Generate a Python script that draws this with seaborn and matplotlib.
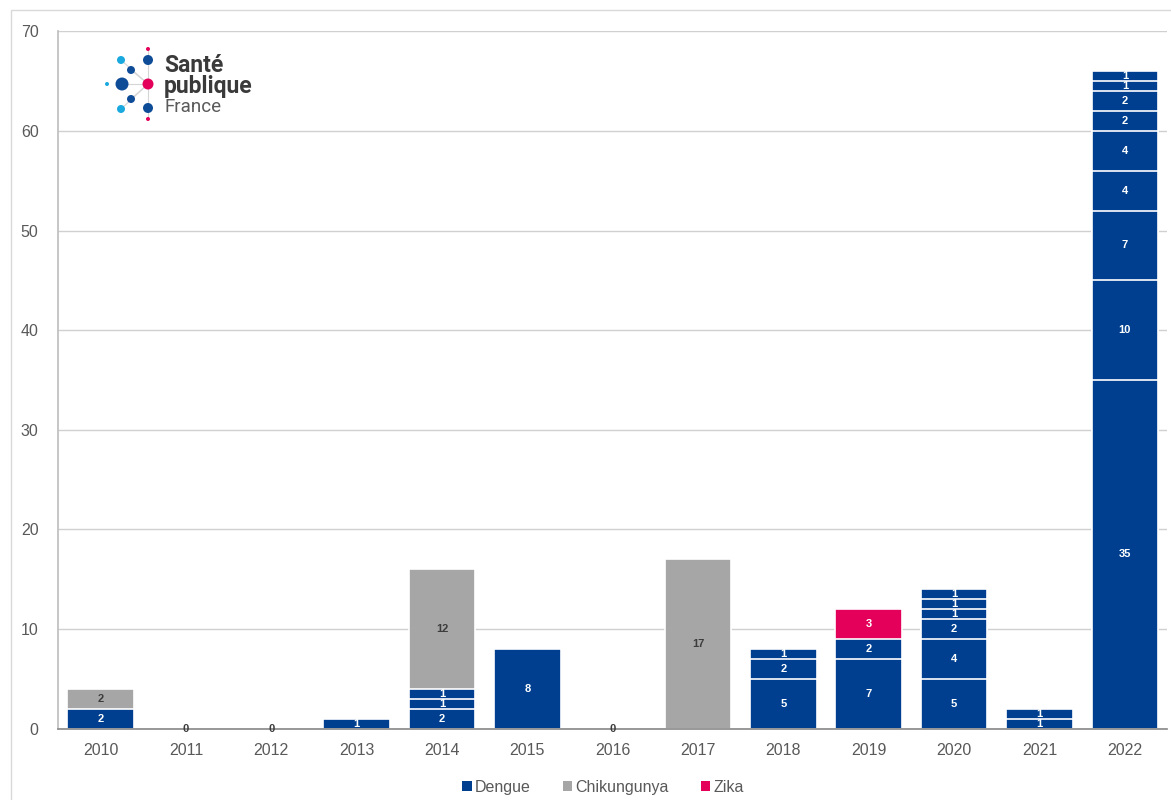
import seaborn as sns
import matplotlib.pyplot as plt
import pandas as pd
from matplotlib.patches import Patch, Rectangle

# years on the x axis
years = ['2010', '2011', '2012', '2013', '2014', '2015', '2016',
         '2017', '2018', '2019', '2020', '2021', '2022']
zero_years = ['2011', '2012', '2016']

# one entry per transmission episode, in stacking order
ep_year = ['2010', '2010',
           '2013',
           '2014', '2014', '2014', '2014',
           '2015',
           '2017',
           '2018', '2018', '2018',
           '2019', '2019', '2019',
           '2020', '2020', '2020', '2020', '2020', '2020',
           '2021', '2021',
           '2022', '2022', '2022', '2022', '2022', '2022', '2022', '2022', '2022']
ep_virus = ['Dengue', 'Chikungunya',
            'Dengue',
            'Dengue', 'Dengue', 'Dengue', 'Chikungunya',
            'Dengue',
            'Chikungunya',
            'Dengue', 'Dengue', 'Dengue',
            'Dengue', 'Dengue', 'Zika',
            'Dengue', 'Dengue', 'Dengue', 'Dengue', 'Dengue', 'Dengue',
            'Dengue', 'Dengue',
            'Dengue', 'Dengue', 'Dengue', 'Dengue', 'Dengue', 'Dengue', 'Dengue', 'Dengue', 'Dengue']
ep_cases = [2, 2,
            1,
            2, 1, 1, 12,
            8,
            17,
            5, 2, 1,
            7, 2, 3,
            5, 4, 2, 1, 1, 1,
            1, 1,
            35, 10, 7, 4, 4, 2, 2, 1, 1]

viruses = ['Dengue', 'Chikungunya', 'Zika']
colors = {'Dengue': '#003f8f', 'Chikungunya': '#a6a6a6', 'Zika': '#e4005a'}
label_colors = {'Dengue': 'white', 'Chikungunya': '#3c3c3c', 'Zika': 'white'}

df = pd.DataFrame({'year': ep_year, 'virus': ep_virus, 'cases': ep_cases})
df['level'] = df.groupby('year').cumcount()
df['top'] = df.groupby('year')['cases'].cumsum()
df['bottom'] = df['top'] - df['cases']

sns.set_theme(style='white')
plt.rcParams['font.family'] = ['Liberation Sans', 'DejaVu Sans']

fig = plt.figure(figsize=(11.71, 8), dpi=100)
ax = fig.add_axes([0.0495, 0.089, 0.9475, 0.872])

# stacked bars: draw cumulative tops from the highest level down
for level in sorted(df['level'].unique(), reverse=True):
    sub = df[df['level'] == level]
    sns.barplot(data=sub, x='year', y='top', hue='virus', order=years,
                hue_order=viruses, palette=colors, dodge=False, width=0.78,
                edgecolor='white', linewidth=1.2, saturation=1,
                errorbar=None, legend=False, ax=ax, zorder=3)

for _, row in df.iterrows():
    ax.text(years.index(row['year']), row['bottom'] + row['cases'] / 2,
            str(row['cases']), ha='center', va='center', fontsize=8,
            fontweight='bold', color=label_colors[row['virus']], zorder=5)
for y in zero_years:
    ax.text(years.index(y), 0, '0', ha='center', va='center', fontsize=8,
            fontweight='bold', color='#3c3c3c', zorder=5)

ax.set_ylim(0, 70)
ax.set_xlim(-0.5, len(years) - 0.5)
ax.set_yticks(range(0, 71, 10))
ax.yaxis.grid(True, color='#d0d0d0', linewidth=1)
ax.set_axisbelow(True)
ax.set_xlabel('')
ax.set_ylabel('')
ax.tick_params(axis='both', labelsize=11.5, colors='#595959', length=0)
ax.tick_params(axis='x', pad=10)
ax.tick_params(axis='y', pad=14)
for side in ['top', 'right']:
    ax.spines[side].set_visible(False)
ax.spines['left'].set_color('#bfbfbf')
ax.spines['bottom'].set_color('#8c8c8c')
ax.spines['bottom'].set_zorder(4)

handles = [Patch(facecolor=colors[v], edgecolor='none', label=v) for v in viruses]
fig.legend(handles=handles, loc='center', bbox_to_anchor=(0.515, 0.016), ncol=3,
           frameon=False, fontsize=11.5, handlelength=0.6, handleheight=0.6,
           handletextpad=0.2, columnspacing=2.0, labelcolor='#595959')

# light frame around the figure
fig.patches.append(Rectangle((11 / 1171, -0.01), 1.0, 1 - 10 / 800 + 0.01,
                             transform=fig.transFigure, fill=False,
                             edgecolor='#d9d9d9', linewidth=1))

# Santé publique France logo, drawn in pixel coordinates
logo = fig.add_axes([0, 0, 1, 1], zorder=10)
logo.set_xlim(0, 1171)
logo.set_ylim(800, 0)
logo.axis('off')
dot_x = [148, 148, 121, 131, 122, 107, 148, 131, 121, 148, 148]
dot_y = [49, 60, 60, 70, 84, 84, 84, 99, 109, 108, 119]
dot_r = [2, 5, 4, 4, 6.5, 2, 5.5, 4, 4, 5, 2]
dot_c = ['#e4005a', '#0f4c97', '#1aa9df', '#0f4c97', '#0f4c97', '#1aa9df',
         '#e4005a', '#0f4c97', '#1aa9df', '#0f4c97', '#e4005a']
for i in [2, 3, 4, 7, 8]:
    logo.plot([148, dot_x[i]], [84, dot_y[i]], color='#d5d5d5', lw=0.8, zorder=1)
logo.plot([148, 148], [49, 119], color='#d5d5d5', lw=0.8, zorder=1)
logo.scatter(dot_x, dot_y, s=[(2 * r / 1.389) ** 2 for r in dot_r], c=dot_c,
             linewidths=0, zorder=2)
logo.text(164, 65, 'Santé', fontsize=16.5, fontweight='bold', color='#3a3a3a',
          va='center', family=['Roboto', 'DejaVu Sans'])
logo.text(164, 86, 'publique', fontsize=16.5, fontweight='bold', color='#3a3a3a',
          va='center', family=['Roboto', 'DejaVu Sans'])
logo.text(164, 107, 'France', fontsize=13.5, color='#5a5a5a',
          va='center', family=['Roboto', 'DejaVu Sans'])

fig.savefig('out.png', dpi=100)
